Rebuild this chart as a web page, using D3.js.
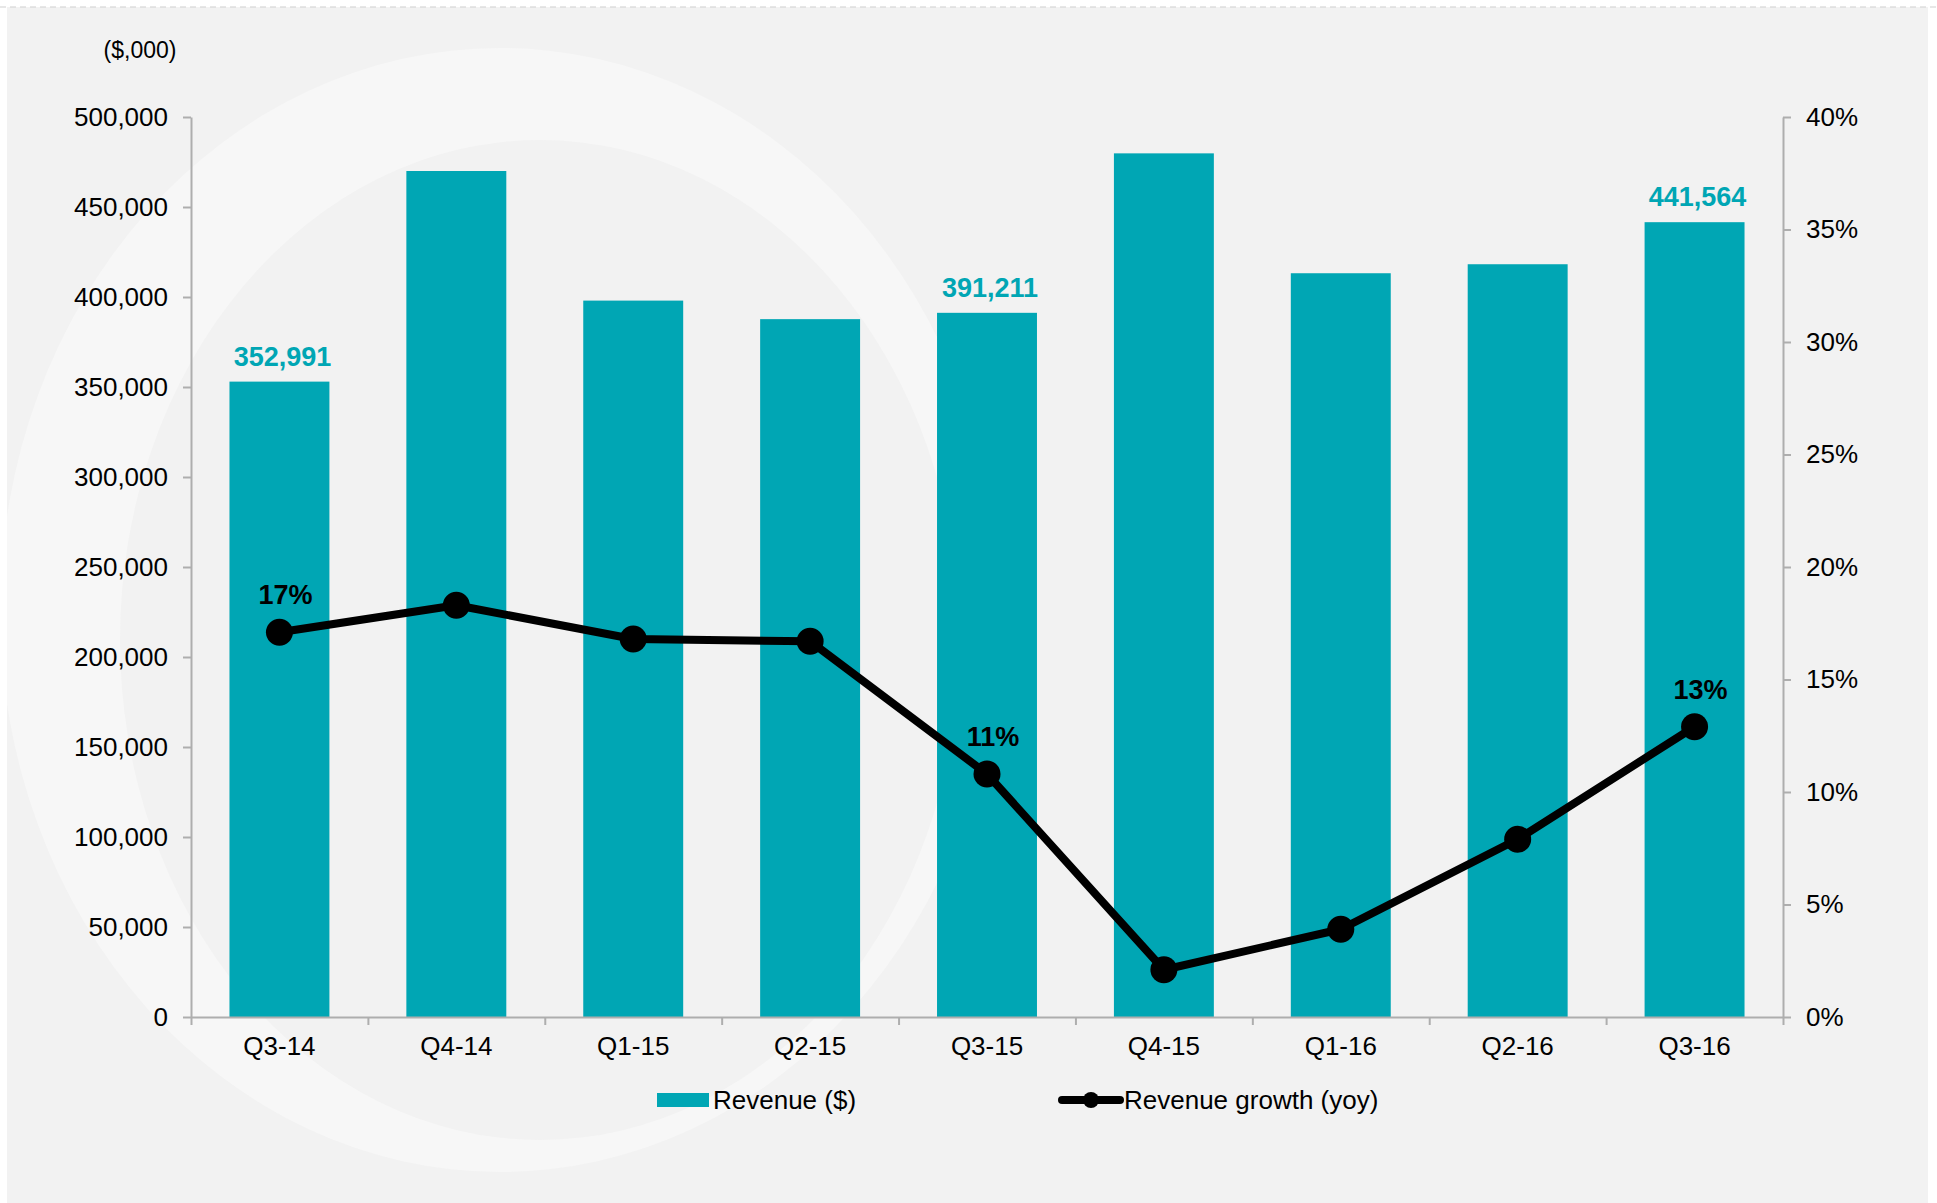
<!DOCTYPE html>
<html>
<head>
<meta charset="utf-8">
<script src="https://cdn.jsdelivr.net/npm/d3@7"></script>
<style>
  body { margin: 0; background: #fff; overflow: hidden; }
  text { font-family: "Liberation Sans", Arial, sans-serif; }
</style>
</head>
<body>
<div class="canvas"></div>
<script>
// data
const quarters = ["Q3-14", "Q4-14", "Q1-15", "Q2-15", "Q3-15", "Q4-15", "Q1-16", "Q2-16", "Q3-16"];
const revenue = [352991, 470000, 398000, 387700, 391211, 479800, 413200, 418200, 441564];
const growth = [0.171, 0.183, 0.168, 0.167, 0.108, 0.021, 0.039, 0.079, 0.129];
const labelled = [0, 4, 8];
const revTicks = [0, 50000, 100000, 150000, 200000, 250000, 300000, 350000, 400000, 450000, 500000];
const pctTicks = [0, 0.05, 0.10, 0.15, 0.20, 0.25, 0.30, 0.35, 0.40];

const W = 1937, H = 1203;
const teal = "#00a6b4";
const axisGrey = "#aeaeae";

const plot = { left: 191, right: 1783, top: 117, bottom: 1017 };

const svg = d3.select(".canvas")
  .append("svg")
    .attr("width", W)
    .attr("height", H);

// background panel
svg.append("rect")
  .attr("x", 7).attr("y", 7)
  .attr("width", 1921).attr("height", H - 7)
  .attr("fill", "#f2f2f2");

svg.append("line")
  .attr("x1", 0).attr("x2", W)
  .attr("y1", 7).attr("y2", 7)
  .attr("stroke", "#cfcfcf")
  .attr("stroke-dasharray", "6,4");

// faint watermark ring
svg.append("clipPath").attr("id", "wm")
  .append("rect").attr("x", 7).attr("y", 7).attr("width", 1921).attr("height", 1165);

function ellipse(cx, cy, rx, ry) {
  return `M${cx - rx},${cy} a${rx},${ry} 0 1,0 ${2 * rx},0 a${rx},${ry} 0 1,0 ${-2 * rx},0 Z`;
}
svg.append("path")
  .attr("clip-path", "url(#wm)")
  .attr("d", ellipse(500, 610, 500, 562) + ellipse(540, 640, 420, 500))
  .attr("fill-rule", "evenodd")
  .attr("fill", "#f7f7f7");

// scales
const x = d3.scaleBand()
  .domain(quarters)
  .range([plot.left, plot.right])
  .paddingInner(0.435)
  .paddingOuter(0.2175);

const y = d3.scaleLinear()
  .domain([0, 500000])
  .range([plot.bottom, plot.top]);

const y2 = d3.scaleLinear()
  .domain([0, 0.40])
  .range([plot.bottom, plot.top]);

const edges = d3.scaleLinear()
  .domain([0, quarters.length])
  .range([plot.left, plot.right]);

// bars
svg.append("g")
  .selectAll("rect")
  .data(quarters)
  .join("rect")
    .attr("x", d => x(d))
    .attr("y", (d, i) => y(revenue[i]))
    .attr("width", x.bandwidth())
    .attr("height", (d, i) => y(0) - y(revenue[i]))
    .attr("fill", teal);

function styleAxis(g) {
  g.select(".domain").attr("stroke", axisGrey).attr("stroke-width", 2);
  g.selectAll(".tick line").attr("stroke", axisGrey).attr("stroke-width", 2);
  g.selectAll(".tick text")
    .attr("fill", "#000")
    .style("font-size", "26px")
    .style("font-family", "'Liberation Sans', Arial, sans-serif");
}

// left axis
svg.append("g")
  .attr("transform", `translate(${plot.left},0)`)
  .call(d3.axisLeft(y)
    .tickValues(revTicks)
    .tickSize(8)
    .tickSizeOuter(0)
    .tickPadding(15)
    .tickFormat(d3.format(",")))
  .call(styleAxis);

// right axis
svg.append("g")
  .attr("transform", `translate(${plot.right},0)`)
  .call(d3.axisRight(y2)
    .tickValues(pctTicks)
    .tickSize(8)
    .tickSizeOuter(0)
    .tickPadding(15)
    .tickFormat(d3.format(".0%")))
  .call(styleAxis);

// x axis: labels centred, ticks on category edges
svg.append("g")
  .attr("transform", `translate(0,${plot.bottom})`)
  .call(d3.axisBottom(x).tickSize(0).tickSizeOuter(0).tickPadding(20))
  .call(styleAxis);

svg.append("g")
  .attr("transform", `translate(0,${plot.bottom})`)
  .call(d3.axisBottom(edges).ticks(quarters.length).tickSize(8).tickSizeOuter(0).tickFormat(""))
  .call(styleAxis)
  .call(g => g.select(".domain").remove());

// growth line
const cx = (d, i) => x(quarters[i]) + x.bandwidth() / 2;

const growthLine = d3.line()
  .x((d, i) => cx(d, i))
  .y(d => y2(d));

svg.append("path")
  .datum(growth)
  .attr("fill", "none")
  .attr("stroke", "#000")
  .attr("stroke-width", 8)
  .attr("stroke-linejoin", "round")
  .attr("d", growthLine);

svg.append("g")
  .selectAll("circle")
  .data(growth)
  .join("circle")
    .attr("cx", cx)
    .attr("cy", d => y2(d))
    .attr("r", 13.5)
    .attr("fill", "#000");

// data labels
svg.append("g")
  .selectAll("text")
  .data(labelled)
  .join("text")
    .attr("x", i => cx(null, i) + 3)
    .attr("y", i => y(revenue[i]) - 16)
    .attr("text-anchor", "middle")
    .attr("fill", teal)
    .style("font-size", "27px")
    .style("font-weight", "bold")
    .text(i => d3.format(",")(revenue[i]));

svg.append("g")
  .selectAll("text")
  .data(labelled)
  .join("text")
    .attr("x", i => cx(null, i) + 6)
    .attr("y", i => y2(growth[i]) - 28)
    .attr("text-anchor", "middle")
    .attr("fill", "#000")
    .style("font-size", "27px")
    .style("font-weight", "bold")
    .text(i => d3.format(".0%")(growth[i]));

// unit label
svg.append("text")
  .attr("x", 140)
  .attr("y", 58)
  .attr("text-anchor", "middle")
  .style("font-size", "23px")
  .text("($,000)");

// legend
const legend = svg.append("g").attr("transform", "translate(0,1100)");

legend.append("rect")
  .attr("x", 657).attr("y", -7)
  .attr("width", 52).attr("height", 14)
  .attr("fill", teal);
legend.append("text")
  .attr("x", 713).attr("y", 9)
  .style("font-size", "26px")
  .text("Revenue ($)");

legend.append("line")
  .attr("x1", 1062).attr("x2", 1120)
  .attr("stroke", "#000")
  .attr("stroke-width", 8)
  .attr("stroke-linecap", "round");
legend.append("circle")
  .attr("cx", 1091).attr("r", 8)
  .attr("fill", "#000");
legend.append("text")
  .attr("x", 1124).attr("y", 9)
  .style("font-size", "26px")
  .text("Revenue growth (yoy)");
</script>
</body>
</html>
